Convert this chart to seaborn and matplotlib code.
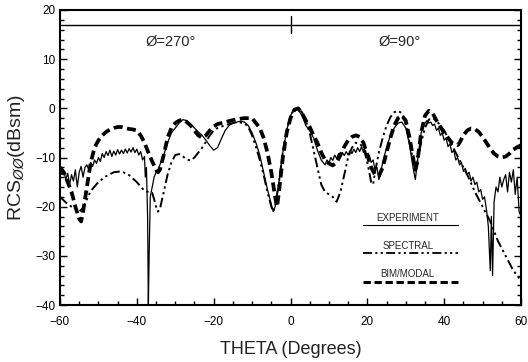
import matplotlib
matplotlib.use("Agg")
import matplotlib.pyplot as plt
import seaborn as sns
import pandas as pd
from matplotlib.ticker import MultipleLocator

# ---------------- data ----------------
exp_theta = [-60, -59.5, -59, -58.5, -58, -57.5, -57, -56.5, -56, -55.5, -55, -54.5, -54, -53.5, -53,
             -52.5, -52, -51.5, -51, -50.5, -50, -49.5, -49, -48.5, -48, -47.5, -47, -46.5, -46,
             -45.5, -45, -44.5, -44, -43.5, -43, -42.5, -42, -41.5, -41, -40.5, -40, -39.5, -39,
             -38.5, -38, -37.8, -37.5, -37.2, -37.0, -36.8, -36.5, -36, -35.5, -35, -34.5, -34,
             -33, -32, -31, -30, -29, -28, -27, -26, -25, -24, -23, -22, -21, -20, -19, -18, -17,
             -16, -15, -14, -13, -12, -11, -10, -9, -8, -7, -6, -5, -4.5, -4, -3, -2, -1, 0, 1, 2,
             3, 4, 5, 6, 7, 8, 9, 9.5, 10, 10.5, 11, 11.5, 12, 12.5, 13, 13.5, 14, 14.5, 15, 15.5,
             16, 16.5, 17, 17.5, 18, 18.5, 19, 19.5, 20, 20.5, 21, 21.5, 22, 22.5, 23, 23.5, 24,
             25, 26, 27, 28, 29, 30, 31, 31.5, 32, 32.5, 33, 33.5, 34, 35, 35.5, 36, 36.5, 37,
             37.5, 38, 38.5, 39, 39.5, 40, 40.5, 41, 41.5, 42, 42.5, 43, 43.5, 44, 44.5, 45, 45.5,
             46, 46.5, 47, 47.5, 48, 48.5, 49, 49.5, 50, 50.5, 51, 51.5, 52, 52.3, 52.6, 53, 53.5,
             54, 54.5, 55, 55.5, 56, 56.5, 57, 57.5, 58, 58.5, 59, 59.5, 60]
exp_rcs = [-12.5, -13.5, -12.8, -14.5, -13.2, -15.5, -13.5, -14.8, -12.5, -16, -13, -11.8, -14, -12, -11.5,
           -12.5, -11, -11.8, -10.5, -11.2, -10, -10.8, -9.2, -10, -8.8, -9.6, -8.5, -9.8, -8.7,
           -9.5, -8.4, -9.3, -8.5, -9.2, -8.3, -9.1, -8.2, -8.9, -8.0, -9.0, -8.3, -9.5, -8.8,
           -10.5, -9.8, -14, -12, -22, -40, -30, -18, -16, -14, -13, -12.5, -11.5,
           -9.5, -7, -5, -4, -3, -2.3, -2.5, -3.2, -4, -4.8, -5.5, -6.5, -7.6, -8.5, -8, -6.2, -4.5,
           -3.5, -3, -2.8, -2.6, -2.8, -3.5, -5, -7, -9.5, -13, -16.5, -19.5, -21, -20, -15, -9, -4.5, -1.5, 0, -0.3,
           -1.5, -3.5, -4.5, -6, -8.5, -10.5, -11.5, -10.5, -11.2, -10, -10.6, -9.5, -10.2, -9.2, -9.8, -9, -9.6, -8.8, -9.5, -8.6,
           -9.2, -8.3, -9, -8, -8.8, -7.8, -9, -8.5, -10, -9.5, -11, -10.5, -12.5, -12, -14.5, -13, -11,
           -8, -5.5, -4, -3, -2.8, -4, -7.5, -10, -12.5, -14.5, -11, -8, -5, -3, -2.5, -3, -2.8, -3.5,
           -3.2, -4.5, -4, -5.5, -5, -6.5, -6, -7.8, -7.2, -9, -8.5, -10.5, -10, -11.5, -11, -12.8, -12.2,
           -13.5, -13, -14.8, -14, -15.5, -15, -17, -16.5, -18.5, -18, -20.5, -24, -33, -22, -34, -19, -16,
           -17, -14, -16, -14.5, -13.5, -17, -13, -15, -12.5, -17.5, -14, -21, -22]

spec_theta = [-60, -58, -56, -55, -54, -53, -52, -50, -48, -46, -44, -42, -40, -38, -37, -36, -35.5, -35,
              -34.5, -34, -33, -32, -31, -30, -29, -28, -27, -26, -25, -24, -23, -22, -21, -20, -19, -18,
              -17, -16, -14, -12, -11, -10, -9, -8, -7, -6, -5, -4.5, -4, -3, -2, -1, 0, 1, 2, 3, 4, 5,
              6, 7, 8, 9, 10, 11, 12, 13, 14, 15, 16, 17, 18, 19, 20, 21, 21.5, 22, 23, 24, 25, 26, 27,
              28, 29, 30, 31, 32, 32.5, 33, 34, 35, 36, 37, 38, 40, 42, 44, 46, 48, 50, 52, 54, 56, 58, 60]
spec_rcs = [-18, -19.5, -20.5, -21, -20.3, -18.5, -16.8, -15, -13.8, -13, -12.8, -13.6, -15, -16.8, -17, -17.2, -18.5, -20,
            -21, -20.5, -17, -13.5, -11, -9.5, -9.3, -9.8, -10.4, -10.6, -10, -9, -8, -6.8, -5.5, -4.5, -4, -3.7,
            -3.5, -3.2, -2.8, -3, -3.8, -5.5, -7.8, -10.5, -13.5, -17, -20, -21, -20, -15, -9, -4.5, -1.5, -0.2, 0, -0.8, -2.5, -5,
            -8.5, -12, -15.5, -17, -17.5, -18, -19, -17, -13.5, -10, -8, -7, -7.2, -8, -11, -15, -15.5, -13, -9, -6, -3.5, -1.8, -0.8,
            -0.5, -1, -3, -7, -11, -12.5, -11, -7, -4, -2.3, -2, -2.5, -4.5, -7.5, -10.5, -13.5, -17, -20, -23, -27, -30, -33, -35]

bim_theta = [-60, -59, -58, -57, -56, -55, -54.5, -54, -53, -52, -51, -50, -49, -48, -47, -46, -45, -44, -43,
             -42, -41, -40, -39, -38, -37, -36, -35, -34.5, -34, -33, -32, -31, -30, -29, -28, -27, -26, -25,
             -24, -23, -22, -21, -20, -19, -18, -16, -14, -12, -10, -9, -8, -7, -6, -5, -4, -3.5, -3, -2,
             -1, 0, 1, 2, 3, 4, 5, 6, 7, 8, 9, 10, 11, 12, 13, 14, 15, 16, 17, 18, 19, 20, 21, 22, 23, 24,
             25, 26, 27, 28, 29, 30, 31, 32, 32.5, 33, 34, 35, 36, 37, 38, 40, 42, 43.5, 44, 45, 46, 47, 48,
             49, 50, 51, 52, 53, 54, 55, 56, 57, 58, 59, 60]
bim_rcs = [-12, -13, -15, -17, -20, -22.5, -23, -21, -16, -11, -8, -6.5, -5.5, -4.8, -4.3, -4, -3.8, -3.8, -4,
           -4.2, -4.3, -4.5, -5.5, -7, -9, -10.8, -12.5, -13, -12.5, -9.5, -6, -4, -3, -2.5, -2.3, -2.8, -3.5, -4.5,
           -5.5, -6, -5.5, -4.5, -3.7, -3.2, -3, -2.6, -2.2, -2, -2, -3, -4, -6, -9, -13, -18, -20, -17, -10,
           -5, -2, -0.3, 0, -1, -2.5, -3.8, -5.5, -7, -9, -10.5, -11.2, -11.6, -11, -9.5, -7.8, -6.5, -5.8, -5.5, -5.8, -7, -9.5, -12, -13.5, -13.8, -12,
           -9, -6, -3.5, -2, -1.5, -2.5, -6, -10.5, -12.5, -11, -5, -1.5, -0.5, -1, -2.5, -5, -7, -7.5, -7, -5.5, -4.5, -4.1, -4.2,
           -4.8, -5.8, -7, -8.2, -9.2, -9.8, -10, -9.8, -9.2, -8.4, -7.9, -7.5]

legend_labels = ["EXPERIMENT", "SPECTRAL", "BIM/MODAL"]
phi_labels = ["\u00d8=270\u00b0", "\u00d8=90\u00b0"]
x_ticks = [-60, -40, -20, 0, 20, 40, 60]
y_ticks = [-40, -30, -20, -10, 0, 10, 20]

# ---------------- style ----------------
sns.set_style("ticks")
plt.rcParams["font.family"] = ["Liberation Sans", "DejaVu Sans"]
plt.rcParams["mathtext.fontset"] = "dejavusans"

fig = plt.figure(figsize=(5.28, 3.62), dpi=100)
ax = fig.add_axes([60 / 528, 1 - 305 / 362, (521 - 60) / 528, (305 - 10) / 362])

exp_df = pd.DataFrame({"theta": exp_theta, "rcs": exp_rcs})
spec_df = pd.DataFrame({"theta": spec_theta, "rcs": spec_rcs})
bim_df = pd.DataFrame({"theta": bim_theta, "rcs": bim_rcs})

sns.lineplot(data=exp_df, x="theta", y="rcs", ax=ax, color="black", lw=0.9,
             estimator=None, errorbar=None, sort=False)
sns.lineplot(data=spec_df, x="theta", y="rcs", ax=ax, color="black", lw=1.4,
             estimator=None, errorbar=None, sort=False)
sns.lineplot(data=bim_df, x="theta", y="rcs", ax=ax, color="black", lw=2.7,
             estimator=None, errorbar=None, sort=False)
lines = ax.get_lines()
spec_dash = (5, 1.8, 1.2, 1.8, 1.2, 1.8)
bim_dash = (2.4, 1.2)
lines[1].set_dashes(spec_dash)
lines[2].set_dashes(bim_dash)

ax.set_xlim(-60, 60)
ax.set_ylim(-40, 20)
ax.set_xticks(x_ticks)
ax.set_yticks(y_ticks)
ax.xaxis.set_minor_locator(MultipleLocator(5))
ax.yaxis.set_minor_locator(MultipleLocator(2))
ax.tick_params(which="both", direction="in", top=False, right=True, labelsize=8.5,
               width=1.0, color="black", labelcolor="black")
ax.tick_params(which="major", length=5)
ax.tick_params(which="minor", length=3)
ax.tick_params(axis="x", which="both", top=False, pad=8)
for s in ax.spines.values():
    s.set_linewidth(1.5)
    s.set_color("black")

ax.set_xlabel("THETA (Degrees)", fontsize=13, labelpad=9, color="#222222")
ax.set_ylabel("RCS$_{\\O\\O}$(dBsm)", fontsize=14, labelpad=6, color="#222222")

# top separator line and phi annotations
ax.axhline(17, color="black", lw=1.0)
ax.plot([0, 0], [15.3, 18.8], color="black", lw=1.0)
ax.text(-37.8, 13.5, phi_labels[0], fontsize=10.5, ha="left", va="center")
ax.text(23.0, 13.5, phi_labels[1], fontsize=10.5, ha="left", va="center")

# hand-drawn style legend
leg_x = [19, 43.5]
leg_text_y = [-22.3, -28.0, -33.6]
leg_line_y = [-23.8, -29.5, -35.3]
ax.plot(leg_x, [leg_line_y[0]] * 2, color="black", lw=0.8)
l2, = ax.plot(leg_x, [leg_line_y[1]] * 2, color="black", lw=1.3)
l2.set_dashes(spec_dash)
l3, = ax.plot(leg_x, [leg_line_y[2]] * 2, color="black", lw=2.2)
l3.set_dashes(bim_dash)
for lab, ty in zip(legend_labels, leg_text_y):
    ax.text(30.5, ty, lab, fontsize=7, ha="center", va="center")

fig.savefig("out.png", dpi=100)
